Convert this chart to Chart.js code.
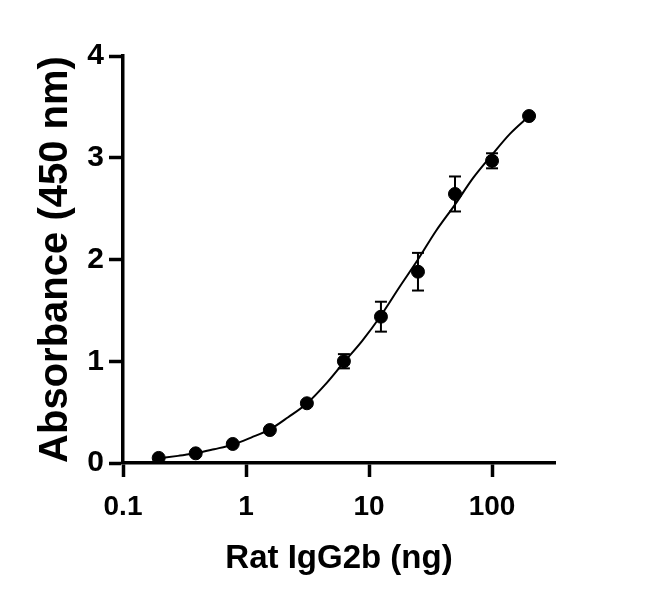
<!DOCTYPE html>
<html>
<head>
<meta charset="utf-8">
<script src="https://cdn.jsdelivr.net/npm/chart.js@4.4.1/dist/chart.umd.min.js"></script>
<style>
  html, body { margin: 0; padding: 0; background: #fff; }
  #wrap { width: 650px; height: 601px; }
</style>
</head>
<body>
<div id="wrap"><canvas id="chart" width="650" height="601"></canvas></div>
<script>
// measured points: amount (ng), mean absorbance, sd
const amounts = [0.195, 0.39, 0.78, 1.5625, 3.125, 6.25, 12.5, 25, 50, 100, 200];
const means   = [0.05, 0.095, 0.187, 0.324, 0.587, 1.0, 1.438, 1.88, 2.644, 2.97, 3.41];
const sds     = [0, 0, 0, 0, 0, 0.07, 0.147, 0.185, 0.172, 0.074, 0];

// fitted curve
const curveX = [0.195, 0.28, 0.39, 0.55, 0.78, 1.1, 1.5625, 2.2, 3.125, 4.4, 6.25, 8.8, 12.5, 17.7, 25, 35, 50, 70, 100, 141, 200];
const curveY = [0.045, 0.07, 0.095, 0.135, 0.18, 0.25, 0.33, 0.45, 0.585, 0.77, 0.99, 1.2, 1.45, 1.73, 2.0, 2.28, 2.54, 2.8, 3.03, 3.24, 3.41];

const xTicks = [0.1, 1, 10, 100];
const yTicks = [0, 1, 2, 3, 4];

const meanPts = amounts.map((x, i) => ({ x: x, y: means[i] }));
const curvePts = curveX.map((x, i) => ({ x: x, y: curveY[i] }));
const errPts = [];
amounts.forEach((x, i) => {
  if (sds[i] > 0) {
    errPts.push({ x: x, y: means[i] - sds[i] });
    errPts.push({ x: x, y: means[i] + sds[i] });
    errPts.push({ x: x, y: null });
  }
});

const FONT = "'Liberation Sans', Arial, sans-serif";

new Chart(document.getElementById('chart'), {
  type: 'scatter',
  data: {
    datasets: [
      {
        label: 'fit',
        data: curvePts,
        showLine: true,
        borderColor: '#000',
        borderWidth: 2,
        pointRadius: 0,
        cubicInterpolationMode: 'monotone',
        order: 3
      },
      {
        label: 'sd',
        data: errPts,
        showLine: true,
        spanGaps: false,
        borderColor: '#000',
        borderWidth: 2,
        pointStyle: 'line',
        pointRadius: 6,
        pointBorderWidth: 2,
        pointBorderColor: '#000',
        order: 2
      },
      {
        label: 'mean',
        data: meanPts,
        backgroundColor: '#000',
        borderColor: '#000',
        pointRadius: 6.5,
        pointHoverRadius: 6.5,
        order: 1
      }
    ]
  },
  options: {
    responsive: false,
    animation: false,
    events: [],
    layout: { padding: { left: 32, right: 95, top: 56, bottom: 22 } },
    plugins: { legend: { display: false }, tooltip: { enabled: false } },
    scales: {
      x: {
        type: 'logarithmic',
        min: 0.1,
        max: 325,
        afterBuildTicks: (s) => { s.ticks = xTicks.map(v => ({ value: v })); },
        afterFit: (s) => { s.height = 116; },
        border: { display: true, color: '#000', width: 3.5 },
        grid: { drawOnChartArea: false, drawTicks: true, tickLength: 14, tickWidth: 3.5, tickColor: '#000' },
        ticks: {
          color: '#000',
          padding: 13,
          font: { family: FONT, size: 28, weight: 'bold' },
          callback: (v) => String(v)
        },
        title: {
          display: true,
          text: 'Rat IgG2b (ng)',
          color: '#000',
          padding: 0,
          font: { family: FONT, size: 33, weight: 'bold' }
        }
      },
      y: {
        min: 0,
        max: 4,
        afterBuildTicks: (s) => { s.ticks = yTicks.map(v => ({ value: v })); },
        afterFit: (s) => { s.width = 91; },
        border: { display: true, color: '#000', width: 3.5 },
        grid: { drawOnChartArea: false, drawTicks: true, tickLength: 14, tickWidth: 3.5, tickColor: '#000' },
        ticks: {
          color: '#000',
          padding: 5,
          font: { family: FONT, size: 30, weight: 'bold' }
        },
        title: {
          display: true,
          text: 'Absorbance (450 nm)',
          color: '#000',
          padding: 0,
          font: { family: FONT, size: 40, weight: 'bold' }
        }
      }
    }
  }
});
</script>
</body>
</html>
